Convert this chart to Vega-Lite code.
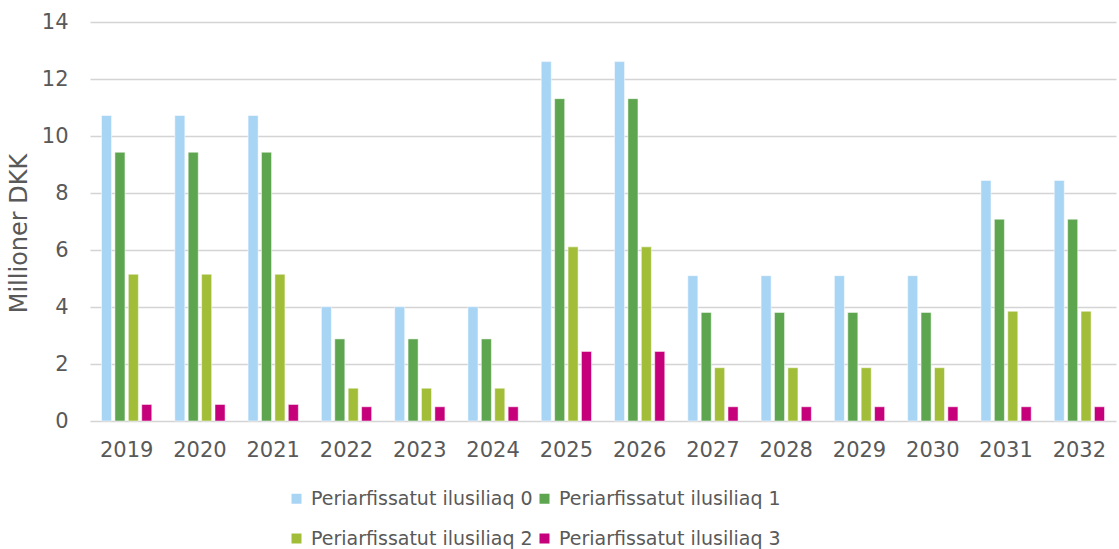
{
  "$schema": "https://vega.github.io/schema/vega-lite/v6.json",
  "width": 1026,
  "height": 399,
  "autosize": "none",
  "padding": {"left": 90, "top": 22, "right": 3, "bottom": 128},
  "background": "white",
  "config": {
    "font": "DejaVu Sans",
    "view": {"stroke": null}
  },
  "data": {
    "values": [
      {"year": "2019", "s": "Periarfissatut ilusiliaq 0", "v": 10.72},
      {"year": "2019", "s": "Periarfissatut ilusiliaq 1", "v": 9.43},
      {"year": "2019", "s": "Periarfissatut ilusiliaq 2", "v": 5.15},
      {"year": "2019", "s": "Periarfissatut ilusiliaq 3", "v": 0.58},
      {"year": "2020", "s": "Periarfissatut ilusiliaq 0", "v": 10.72},
      {"year": "2020", "s": "Periarfissatut ilusiliaq 1", "v": 9.43},
      {"year": "2020", "s": "Periarfissatut ilusiliaq 2", "v": 5.15},
      {"year": "2020", "s": "Periarfissatut ilusiliaq 3", "v": 0.58},
      {"year": "2021", "s": "Periarfissatut ilusiliaq 0", "v": 10.72},
      {"year": "2021", "s": "Periarfissatut ilusiliaq 1", "v": 9.43},
      {"year": "2021", "s": "Periarfissatut ilusiliaq 2", "v": 5.15},
      {"year": "2021", "s": "Periarfissatut ilusiliaq 3", "v": 0.58},
      {"year": "2022", "s": "Periarfissatut ilusiliaq 0", "v": 4.01},
      {"year": "2022", "s": "Periarfissatut ilusiliaq 1", "v": 2.88},
      {"year": "2022", "s": "Periarfissatut ilusiliaq 2", "v": 1.15},
      {"year": "2022", "s": "Periarfissatut ilusiliaq 3", "v": 0.5},
      {"year": "2023", "s": "Periarfissatut ilusiliaq 0", "v": 4.01},
      {"year": "2023", "s": "Periarfissatut ilusiliaq 1", "v": 2.88},
      {"year": "2023", "s": "Periarfissatut ilusiliaq 2", "v": 1.15},
      {"year": "2023", "s": "Periarfissatut ilusiliaq 3", "v": 0.5},
      {"year": "2024", "s": "Periarfissatut ilusiliaq 0", "v": 4.01},
      {"year": "2024", "s": "Periarfissatut ilusiliaq 1", "v": 2.88},
      {"year": "2024", "s": "Periarfissatut ilusiliaq 2", "v": 1.15},
      {"year": "2024", "s": "Periarfissatut ilusiliaq 3", "v": 0.5},
      {"year": "2025", "s": "Periarfissatut ilusiliaq 0", "v": 12.61},
      {"year": "2025", "s": "Periarfissatut ilusiliaq 1", "v": 11.31},
      {"year": "2025", "s": "Periarfissatut ilusiliaq 2", "v": 6.11},
      {"year": "2025", "s": "Periarfissatut ilusiliaq 3", "v": 2.44},
      {"year": "2026", "s": "Periarfissatut ilusiliaq 0", "v": 12.61},
      {"year": "2026", "s": "Periarfissatut ilusiliaq 1", "v": 11.31},
      {"year": "2026", "s": "Periarfissatut ilusiliaq 2", "v": 6.11},
      {"year": "2026", "s": "Periarfissatut ilusiliaq 3", "v": 2.44},
      {"year": "2027", "s": "Periarfissatut ilusiliaq 0", "v": 5.1},
      {"year": "2027", "s": "Periarfissatut ilusiliaq 1", "v": 3.81},
      {"year": "2027", "s": "Periarfissatut ilusiliaq 2", "v": 1.87},
      {"year": "2027", "s": "Periarfissatut ilusiliaq 3", "v": 0.5},
      {"year": "2028", "s": "Periarfissatut ilusiliaq 0", "v": 5.1},
      {"year": "2028", "s": "Periarfissatut ilusiliaq 1", "v": 3.81},
      {"year": "2028", "s": "Periarfissatut ilusiliaq 2", "v": 1.87},
      {"year": "2028", "s": "Periarfissatut ilusiliaq 3", "v": 0.5},
      {"year": "2029", "s": "Periarfissatut ilusiliaq 0", "v": 5.1},
      {"year": "2029", "s": "Periarfissatut ilusiliaq 1", "v": 3.81},
      {"year": "2029", "s": "Periarfissatut ilusiliaq 2", "v": 1.87},
      {"year": "2029", "s": "Periarfissatut ilusiliaq 3", "v": 0.5},
      {"year": "2030", "s": "Periarfissatut ilusiliaq 0", "v": 5.1},
      {"year": "2030", "s": "Periarfissatut ilusiliaq 1", "v": 3.81},
      {"year": "2030", "s": "Periarfissatut ilusiliaq 2", "v": 1.87},
      {"year": "2030", "s": "Periarfissatut ilusiliaq 3", "v": 0.5},
      {"year": "2031", "s": "Periarfissatut ilusiliaq 0", "v": 8.44},
      {"year": "2031", "s": "Periarfissatut ilusiliaq 1", "v": 7.08},
      {"year": "2031", "s": "Periarfissatut ilusiliaq 2", "v": 3.85},
      {"year": "2031", "s": "Periarfissatut ilusiliaq 3", "v": 0.5},
      {"year": "2032", "s": "Periarfissatut ilusiliaq 0", "v": 8.44},
      {"year": "2032", "s": "Periarfissatut ilusiliaq 1", "v": 7.08},
      {"year": "2032", "s": "Periarfissatut ilusiliaq 2", "v": 3.85},
      {"year": "2032", "s": "Periarfissatut ilusiliaq 3", "v": 0.5}
    ]
  },
  "mark": {"type": "bar", "stroke": "white", "strokeWidth": 0.5},
  "encoding": {
    "x": {
      "field": "year",
      "type": "nominal",
      "scale": {"paddingInner": 0.314, "paddingOuter": 0.157},
      "axis": {
        "title": null,
        "labelAngle": 0,
        "labelFontSize": 21,
        "labelColor": "#595959",
        "labelPadding": 18,
        "domain": false,
        "ticks": false,
        "grid": false
      }
    },
    "xOffset": {
      "field": "s",
      "type": "nominal",
      "scale": {"paddingInner": 0.25, "paddingOuter": 0}
    },
    "y": {
      "field": "v",
      "type": "quantitative",
      "scale": {"domain": [0, 14], "nice": false},
      "axis": {
        "title": "Millioner DKK",
        "titleFontSize": 24,
        "titleFontWeight": "normal",
        "titleColor": "#595959",
        "titlePadding": 10,
        "titleY": 211,
        "values": [0, 2, 4, 6, 8, 10, 12, 14],
        "labelFontSize": 21,
        "labelColor": "#595959",
        "labelPadding": 22,
        "ticks": false,
        "domain": false,
        "grid": true,
        "gridColor": "#d4d4d4",
        "gridWidth": 1.5
      }
    },
    "color": {
      "field": "s",
      "type": "nominal",
      "scale": {
        "domain": ["Periarfissatut ilusiliaq 0", "Periarfissatut ilusiliaq 1", "Periarfissatut ilusiliaq 2", "Periarfissatut ilusiliaq 3"],
        "range": ["#a9d5f5", "#5da54f", "#a2be38", "#c5007a"]
      },
      "legend": {
        "title": null,
        "orient": "none",
        "legendX": 197,
        "legendY": 467,
        "direction": "horizontal",
        "columns": 2,
        "symbolType": "square",
        "symbolSize": 100,
        "symbolStrokeWidth": 0,
        "labelFontSize": 19,
        "labelColor": "#595959",
        "labelOffset": 5,
        "labelLimit": 400,
        "rowPadding": 20,
        "columnPadding": 2
      }
    }
  }
}
